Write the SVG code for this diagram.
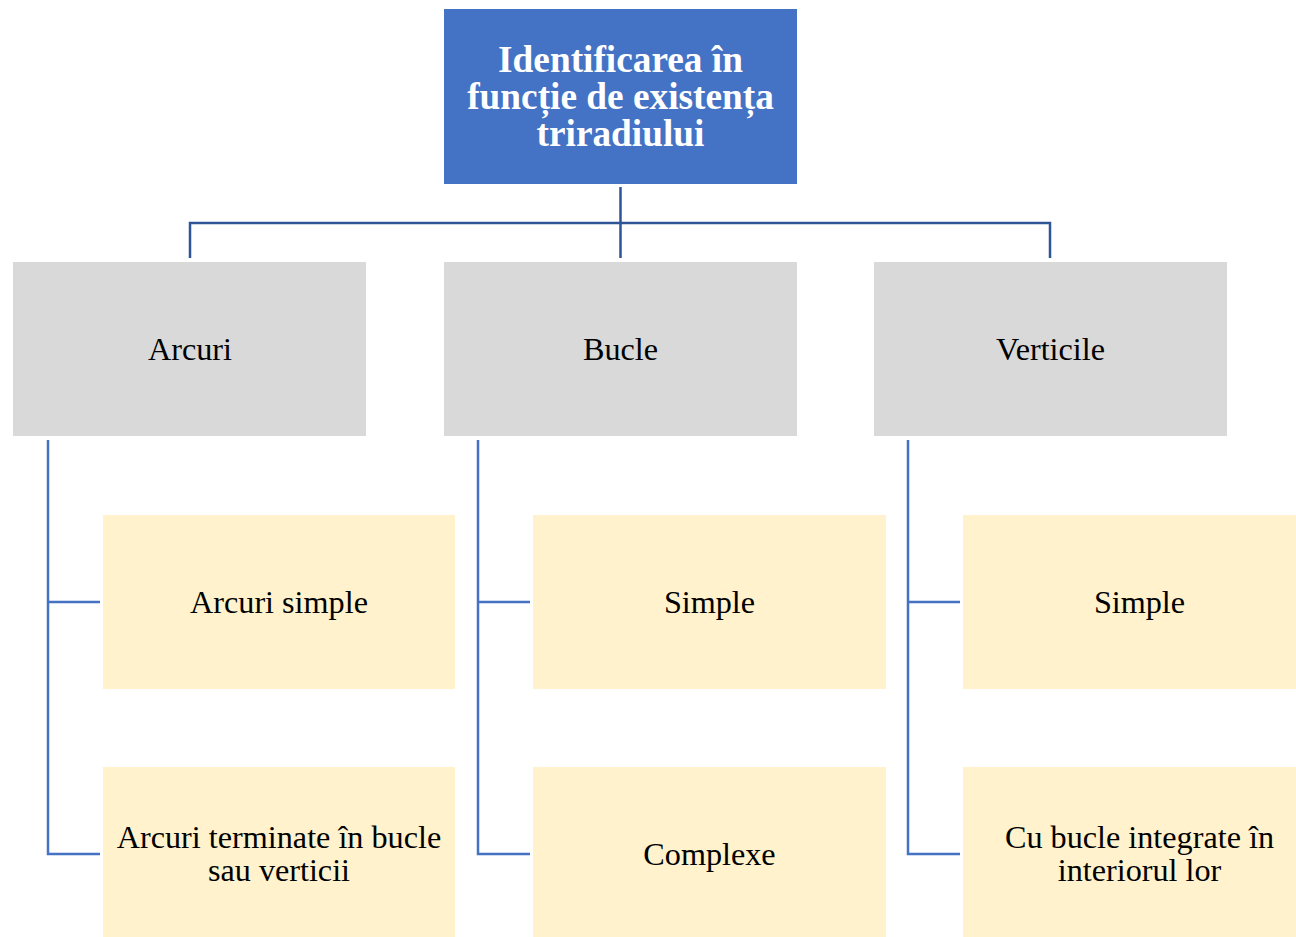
<svg xmlns="http://www.w3.org/2000/svg" width="1296" height="937" viewBox="0 0 1296 937">
<style>
.top{fill:#4472C4}
.gray{fill:#D9D9D9}
.yel{fill:#FFF2CC}
.t{font-family:"Liberation Serif","Times New Roman",serif;font-size:32.2px;fill:#000;text-anchor:middle}
.tb{font-family:"Liberation Serif","Times New Roman",serif;font-size:37.3px;font-weight:bold;fill:#fff;text-anchor:middle}
.c1{stroke:#2F5597;stroke-width:2.5;fill:none}
.c2{stroke:#4472C4;stroke-width:2.5;fill:none}
</style>
<rect width="1296" height="937" fill="#fff"/>
<g id="connectors">
<path class="c1" d="M620.5 187V258M190 258V223H1050V258"/>
<path class="c2" d="M48 440V854H100M48 602H100"/>
<path class="c2" d="M478 440V854H530M478 602H530"/>
<path class="c2" d="M908 440V854H960M908 602H960"/>
</g>
<g id="root">
<rect class="top" x="444" y="9" width="353" height="175"/>
<text class="tb" x="620.5" y="71.5">Identificarea în</text>
<text class="tb" x="620.5" y="109">funcție de existența</text>
<text class="tb" x="620.5" y="146">triradiului</text>
</g>
<g id="arcuri">
<rect class="gray" x="13" y="262" width="353" height="174"/>
<text class="t" x="190" y="359.5">Arcuri</text>
</g>
<g id="bucle">
<rect class="gray" x="444" y="262" width="353" height="174"/>
<text class="t" x="620.5" y="359.5">Bucle</text>
</g>
<g id="verticile">
<rect class="gray" x="874" y="262" width="353" height="174"/>
<text class="t" x="1050.5" y="359.5">Verticile</text>
</g>
<g id="arcuri-simple">
<rect class="yel" x="103" y="515" width="352" height="174"/>
<text class="t" x="279" y="612.5">Arcuri simple</text>
</g>
<g id="arcuri-terminate">
<rect class="yel" x="103" y="767" width="352" height="170"/>
<text class="t" x="279" y="848">Arcuri terminate în bucle</text>
<text class="t" x="279" y="881">sau verticii</text>
</g>
<g id="bucle-simple">
<rect class="yel" x="533" y="515" width="353" height="174"/>
<text class="t" x="709.5" y="612.5">Simple</text>
</g>
<g id="bucle-complexe">
<rect class="yel" x="533" y="767" width="353" height="170"/>
<text class="t" x="709.5" y="864.5">Complexe</text>
</g>
<g id="verticile-simple">
<rect class="yel" x="963" y="515" width="333" height="174"/>
<text class="t" x="1139.5" y="612.5">Simple</text>
</g>
<g id="verticile-bucle">
<rect class="yel" x="963" y="767" width="333" height="170"/>
<text class="t" x="1139.5" y="848">Cu bucle integrate în</text>
<text class="t" x="1139.5" y="881">interiorul lor</text>
</g>
</svg>
